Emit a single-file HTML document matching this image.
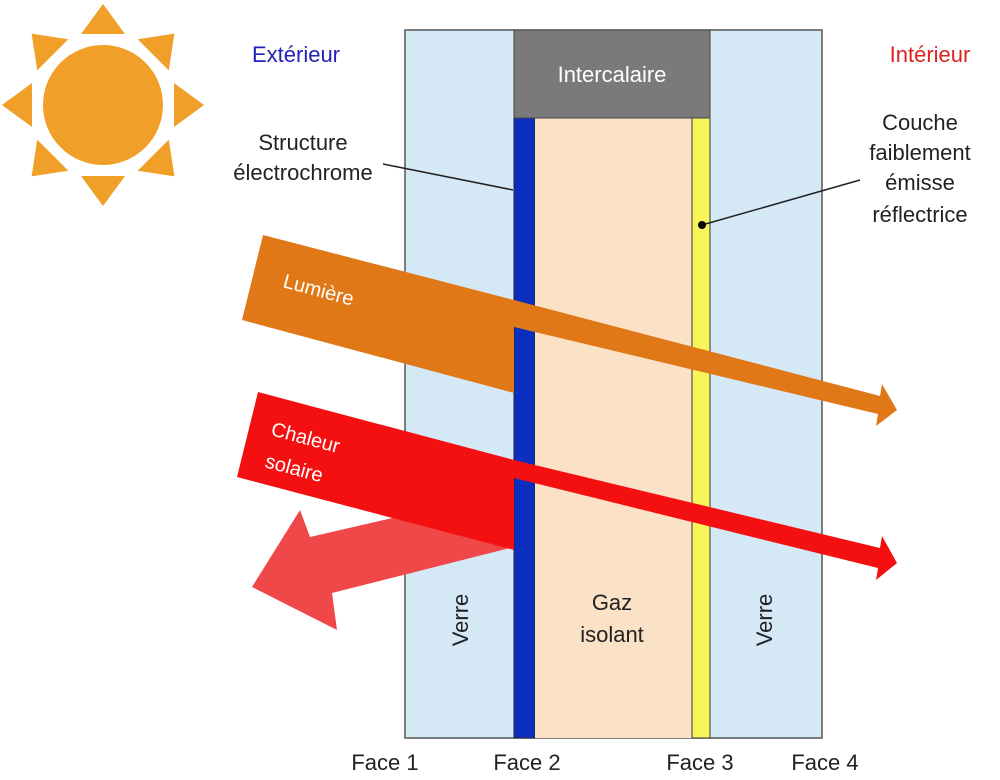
<!DOCTYPE html>
<html><head><meta charset="utf-8"><style>
html,body{margin:0;padding:0;background:#fff;}
svg{display:block;font-family:"Liberation Sans",Arial,sans-serif;}
</style></head><body>
<svg width="1000" height="780" viewBox="0 0 1000 780" xmlns="http://www.w3.org/2000/svg">
<!-- sun -->
<g fill="#f0a028">
<circle cx="103" cy="105" r="60"/>
<g id="t"><polygon points="103,4 81,34 125,34"/></g>
<use href="#t" transform="rotate(45 103 105)"/>
<use href="#t" transform="rotate(90 103 105)"/>
<use href="#t" transform="rotate(135 103 105)"/>
<use href="#t" transform="rotate(180 103 105)"/>
<use href="#t" transform="rotate(225 103 105)"/>
<use href="#t" transform="rotate(270 103 105)"/>
<use href="#t" transform="rotate(315 103 105)"/>
</g>
<!-- glazing -->
<rect x="405" y="30" width="417" height="708" fill="#d5e8f6" stroke="#555" stroke-width="1.5"/>
<rect x="514" y="118" width="21" height="620" fill="#0a2fc0" stroke="#223" stroke-width="1"/>
<rect x="535" y="118" width="157" height="620" fill="#fbe2c6"/>
<rect x="692" y="118" width="18" height="620" fill="#f8f55a" stroke="#333" stroke-width="1"/>
<rect x="514" y="30" width="196" height="88" fill="#7a7a7a" stroke="#444" stroke-width="1"/>
<text x="612" y="82" font-size="22" fill="#fff" text-anchor="middle">Intercalaire</text>
<text x="296" y="62" font-size="22" fill="#2222bb" text-anchor="middle">Extérieur</text>
<text x="930" y="62" font-size="22" fill="#dd2222" text-anchor="middle">Intérieur</text>
<g font-size="22" fill="#222" text-anchor="middle">
<text x="303" y="150">Structure</text>
<text x="303" y="180">électrochrome</text>
<text x="920" y="130">Couche</text>
<text x="920" y="160">faiblement</text>
<text x="920" y="190">émisse</text>
<text x="920" y="222">réflectrice</text>
<text x="385" y="770">Face 1</text>
<text x="527" y="770">Face 2</text>
<text x="700" y="770">Face 3</text>
<text x="825" y="770">Face 4</text>
<text x="612" y="610">Gaz</text>
<text x="612" y="642">isolant</text>
</g>
<line x1="383" y1="164" x2="513" y2="190" stroke="#222" stroke-width="1.5"/>
<line x1="860" y1="180" x2="702" y2="225" stroke="#222" stroke-width="1.5"/>
<circle cx="702" cy="225" r="4" fill="#000"/>
<text font-size="22" fill="#222" text-anchor="middle" transform="translate(468,620) rotate(-90)">Verre</text>
<text font-size="22" fill="#222" text-anchor="middle" transform="translate(772,620) rotate(-90)">Verre</text>
<!-- Lumière -->
<polygon points="263,235 514,300 514,393 242,320" fill="#e07818"/>
<polygon points="514,300 880,396 882,384 897,410 876,426 878,414 514,327" fill="#e07818"/>
<text font-size="20" fill="#fff" transform="translate(282,287) rotate(15)">Lumière</text>
<!-- reflected -->
<polygon points="514,490 514,547 332,593 337,630 252,587 300,510 310,537" fill="#f04848"/>
<!-- Chaleur -->
<polygon points="258,392 514,460 514,550 237,477" fill="#f41010"/>
<polygon points="514,460 880,548 882,536 897,563 876,580 878,568 514,478" fill="#f41010"/>
<text font-size="20" fill="#fff" transform="translate(270,435) rotate(15)">Chaleur</text>
<text font-size="20" fill="#fff" transform="translate(264,467) rotate(15)">solaire</text>
</svg>
</body></html>
